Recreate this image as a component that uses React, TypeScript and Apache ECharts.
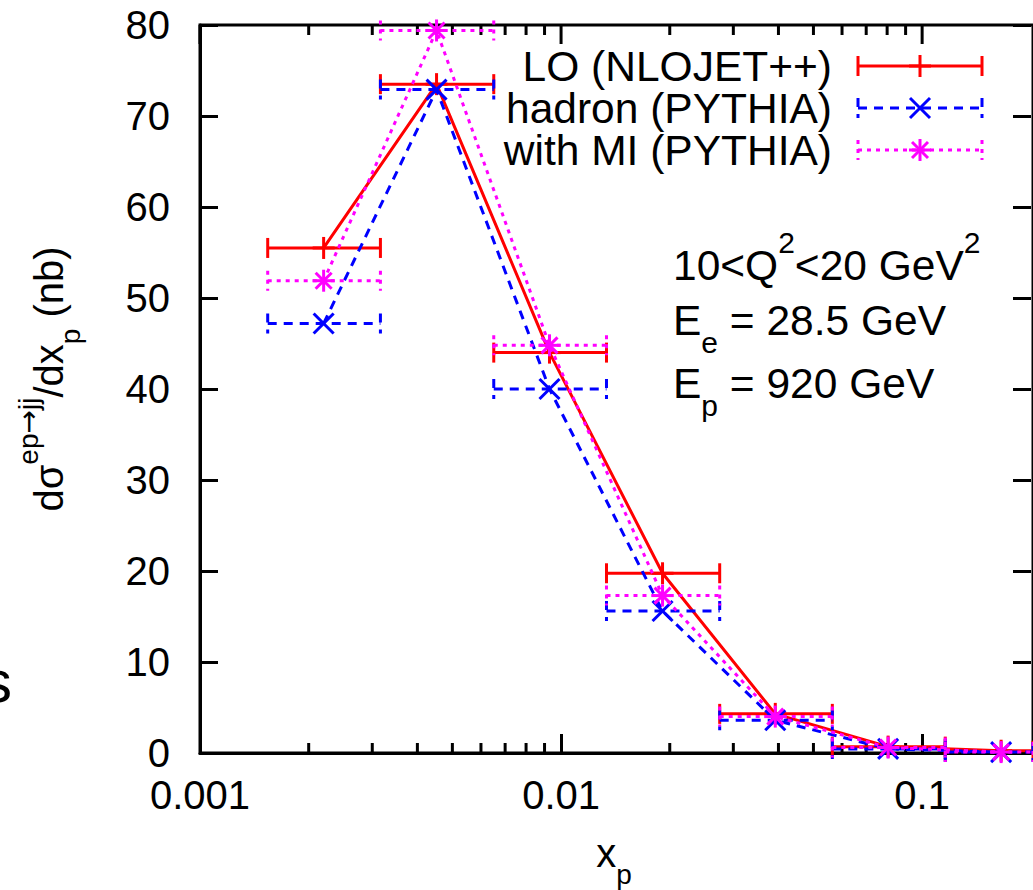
import React, { useEffect, useRef } from 'react';
import * as echarts from 'echarts';

// ---------- data ----------
const xCenters = [0.0022, 0.00452, 0.00929, 0.0191, 0.0392, 0.0805, 0.1655];
const xLow = [0.00154, 0.00316, 0.00651, 0.01336, 0.0275, 0.0564, 0.1159];
const xHigh = [0.00316, 0.00651, 0.01336, 0.0275, 0.0564, 0.1159, 0.238];
const loValues = [55.5, 73.5, 44.0, 19.75, 4.3, 0.7, 0.25];
const hadronValues = [47.2, 72.9, 40.0, 15.6, 3.6, 0.45, 0.1];
const miValues = [51.9, 79.4, 44.8, 17.3, 4.0, 0.6, 0.1];
const majorTickValues = [0.001, 0.01, 0.1];
const minorTickValues = [
  0.002, 0.003, 0.004, 0.005, 0.006, 0.007, 0.008, 0.009,
  0.02, 0.03, 0.04, 0.05, 0.06, 0.07, 0.08, 0.09,
];
const seriesNames = ['LO (NLOJET++)', 'hadron (PYTHIA)', 'with MI (PYTHIA)'];

const FONT = '"Liberation Sans", Arial, Helvetica, sans-serif';
const RED = '#ff0000';
const BLUE = '#0000ff';
const MAGENTA = '#ff00ff';
const DASH = [9, 7];
const DOT = [4, 5];

type Marker = 'plus' | 'cross' | 'star';

function markerShapes(cx: number, cy: number, m: Marker, color: string) {
  const s = { stroke: color, lineWidth: 3 };
  const L = (x1: number, y1: number, x2: number, y2: number) => ({
    type: 'line', shape: { x1, y1, x2, y2 }, style: s,
  });
  const out: any[] = [];
  if (m === 'plus' || m === 'star') {
    const r = 11;
    out.push(L(cx - r, cy, cx + r, cy), L(cx, cy - r, cx, cy + r));
  }
  if (m === 'cross' || m === 'star') {
    const d = m === 'cross' ? 10 : 8;
    out.push(L(cx - d, cy - d, cx + d, cy + d), L(cx - d, cy + d, cx + d, cy - d));
  }
  return out;
}

function renderErr(color: string, dash: number[] | null, marker: Marker) {
  return (params: any, api: any) => {
    const cs = params.coordSys;
    const y = api.value(1);
    const c = api.coord([api.value(0), y]);
    const l = api.coord([api.value(2), y]);
    const h = api.coord([api.value(3), y]);
    const right = cs.x + cs.width;
    const hx = Math.min(h[0], right);
    const lx = Math.max(l[0], cs.x);
    const st: any = { stroke: color, lineWidth: 3, fill: null };
    if (dash) st.lineDash = dash;
    const cap = 10;
    return {
      type: 'group',
      children: [
        { type: 'line', shape: { x1: lx, y1: c[1], x2: hx, y2: c[1] }, style: st },
        { type: 'line', shape: { x1: lx, y1: c[1] - cap, x2: lx, y2: c[1] + cap }, style: st },
        { type: 'line', shape: { x1: hx, y1: c[1] - cap, x2: hx, y2: c[1] + cap }, style: st },
        ...markerShapes(c[0], c[1], marker, color),
      ],
    };
  };
}

// tick marks along the frame: drawn at the top edge (value 80) and optionally the bottom (value 0)
function renderTicks(len: number, bottomToo: boolean) {
  return (params: any, api: any) => {
    const x = api.value(0);
    const pb = api.coord([x, 0]);
    const pt = api.coord([x, 80]);
    const st = { stroke: '#000', lineWidth: 3 };
    const children: any[] = [
      { type: 'line', shape: { x1: pt[0], y1: pt[1], x2: pt[0], y2: pt[1] + len }, style: st },
    ];
    if (bottomToo) {
      children.push({ type: 'line', shape: { x1: pb[0], y1: pb[1], x2: pb[0], y2: pb[1] - len }, style: st });
    }
    return { type: 'group', children };
  };
}

function legendRow(y: number, name: string, color: string, dash: number[] | null, marker: Marker) {
  const st: any = { stroke: color, lineWidth: 3 };
  if (dash) st.lineDash = dash;
  const x1 = 858, x2 = 982, cx = 920, cap = 10;
  return [
    {
      type: 'text', x: 832, y,
      style: {
        text: name, fontSize: 42.5, fontFamily: FONT, fill: '#000',
        align: 'right', verticalAlign: 'middle',
      },
    },
    { type: 'line', shape: { x1, y1: y, x2, y2: y }, style: st },
    { type: 'line', shape: { x1, y1: y - cap, x2: x1, y2: y + cap }, style: st },
    { type: 'line', shape: { x1: x2, y1: y - cap, x2, y2: y + cap }, style: st },
    ...markerShapes(cx, y, marker, color),
  ];
}

function makeRich(size: number) {
  const s = Math.round(size * 0.7);
  return {
    m: { fontSize: size, fontFamily: FONT, fill: '#000', lineHeight: size * 1.75 },
    sup: { fontSize: s, fontFamily: FONT, fill: '#000', lineHeight: s, verticalAlign: 'top' },
    arr: { fontSize: s, fontFamily: '"DejaVu Sans", sans-serif', fill: '#000', lineHeight: s, verticalAlign: 'top' },
    sub: { fontSize: s, fontFamily: FONT, fill: '#000', lineHeight: size, verticalAlign: 'bottom' },
  };
}

function richText(x: number, y: number, text: string, align: string, size: number, rotation = 0) {
  return {
    type: 'text', x, y, rotation,
    style: {
      text, rich: makeRich(size), fontSize: size, fontFamily: FONT, fill: '#000',
      align, verticalAlign: 'middle',
    },
  };
}

export default function App() {
  const ref = useRef<HTMLDivElement>(null);
  useEffect(() => {
    if (!ref.current) return;
    const chart = echarts.init(ref.current, null, { renderer: 'svg' });
    const tickStyle = { color: '#000', width: 3 };
    const logFormatter = (v: number) => {
      const l = Math.log10(v);
      if (Math.abs(l - Math.round(l)) < 1e-6) return String(Number(v.toPrecision(1)));
      return '';
    };
    const option: any = {
      animation: false,
      backgroundColor: '#fff',
      grid: {
        left: 200, top: 25, width: 834, height: 728, containLabel: false,
        show: true, borderColor: '#000', borderWidth: 3, backgroundColor: 'transparent',
      },
      xAxis: {
        type: 'log', logBase: 10, min: 0.001, max: 0.2028, position: 'bottom',
        axisLine: { show: true, lineStyle: { color: '#000', width: 3 } },
        splitLine: { show: false },
        axisTick: { show: true, inside: true, length: 19, lineStyle: tickStyle },
        axisLabel: { fontSize: 40, fontFamily: FONT, color: '#000', margin: 22, formatter: logFormatter, showMaxLabel: false },
      },
      yAxis: [
        {
          type: 'value', min: 0, max: 80, interval: 10, position: 'left',
          axisLine: { show: true, lineStyle: { color: '#000', width: 3 } },
          splitLine: { show: false },
          axisTick: { show: true, inside: true, length: 18, lineStyle: tickStyle },
          axisLabel: { fontSize: 40, fontFamily: FONT, color: '#000', margin: 30 },
        },
        {
          type: 'value', min: 0, max: 80, interval: 10, position: 'right', offset: -2,
          axisLine: { show: false }, splitLine: { show: false },
          axisTick: { show: true, inside: true, length: 18, lineStyle: tickStyle },
          axisLabel: { show: false },
        },
      ],
      series: [
        {
          type: 'custom', name: 'minor ticks', silent: true, z: 1,
          renderItem: renderTicks(10, true),
          data: minorTickValues.map((v) => [v, 0]),
        },
        {
          type: 'custom', name: 'top major ticks', silent: true, z: 1,
          renderItem: renderTicks(19, false),
          data: majorTickValues.map((v) => [v, 0]),
        },
        {
          type: 'line', name: seriesNames[0], silent: true, z: 2, symbol: 'none',
          lineStyle: { color: RED, width: 3, type: 'solid' },
          data: xCenters.map((x, i) => [x, loValues[i]]),
        },
        {
          type: 'custom', name: seriesNames[0] + ' err', silent: true, z: 3,
          renderItem: renderErr(RED, null, 'plus'),
          data: xCenters.map((x, i) => [x, loValues[i], xLow[i], xHigh[i]]),
        },
        {
          type: 'line', name: seriesNames[1], silent: true, z: 4, symbol: 'none',
          lineStyle: { color: BLUE, width: 3, type: DASH },
          data: xCenters.map((x, i) => [x, hadronValues[i]]),
        },
        {
          type: 'custom', name: seriesNames[1] + ' err', silent: true, z: 5,
          renderItem: renderErr(BLUE, DASH, 'cross'),
          data: xCenters.map((x, i) => [x, hadronValues[i], xLow[i], xHigh[i]]),
        },
        {
          type: 'line', name: seriesNames[2], silent: true, z: 6, symbol: 'none',
          lineStyle: { color: MAGENTA, width: 3, type: DOT },
          data: xCenters.map((x, i) => [x, miValues[i]]),
        },
        {
          type: 'custom', name: seriesNames[2] + ' err', silent: true, z: 7,
          renderItem: renderErr(MAGENTA, DOT, 'star'),
          data: xCenters.map((x, i) => [x, miValues[i], xLow[i], xHigh[i]]),
        },
      ],
      graphic: [
        ...legendRow(66, seriesNames[0], RED, null, 'plus'),
        ...legendRow(108, seriesNames[1], BLUE, DASH, 'cross'),
        ...legendRow(150, seriesNames[2], MAGENTA, DOT, 'star'),
        richText(673, 265, '{m|10<Q}{sup|2}{m|<20 GeV}{sup|2}', 'left', 42.5),
        richText(673, 320, '{m|E}{sub|e}{m| = 28.5 GeV}', 'left', 42.5),
        richText(673, 383, '{m|E}{sub|p}{m| = 920 GeV}', 'left', 42.5),
        richText(49, 379, '{m|dσ}{sup|ep}{arr|→}{sup|jj}{m|/dx}{sub|p}{m| (nb)}', 'center', 40, Math.PI / 2),
        richText(614, 853, '{m|x}{sub|p}', 'center', 40),
        {
          type: 'text', x: -18, y: 681,
          style: { text: 's', fontSize: 60, fontFamily: FONT, fill: '#000', align: 'left', verticalAlign: 'middle' },
        },
      ],
    };
    chart.setOption(option);
    return () => chart.dispose();
  }, []);
  return (
    <div
      ref={ref}
      style={{ position: 'fixed', left: 0, top: 0, width: 1033, height: 890, background: '#fff' }}
    />
  );
}
